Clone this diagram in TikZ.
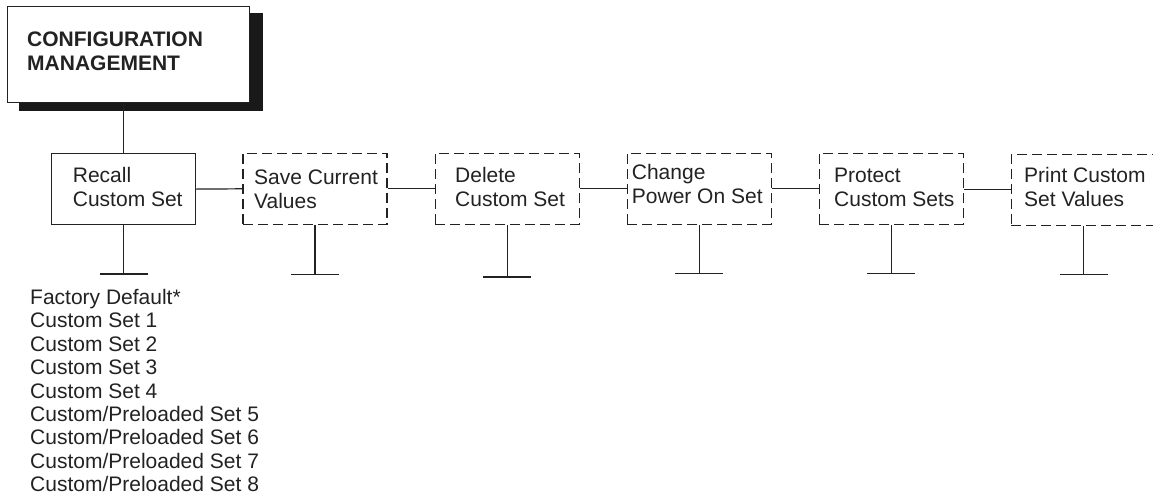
\documentclass[tikz,border=0pt]{standalone}
\usepackage{fontspec}
\setmainfont{Liberation Sans}
\definecolor{ink}{HTML}{222222}
\begin{document}
\begin{tikzpicture}[x=1pt,y=-1pt,
  box/.style={draw=ink, line width=1.2pt, minimum width=144pt, minimum height=71pt, anchor=north west, inner sep=0pt},
  dbox/.style={box, dash pattern=on 10pt off 5pt},
  lbl/.style={anchor=base west, inner sep=0pt, text=ink, font=\fontsize{21}{24}\selectfont, align=left},
  wire/.style={draw=ink, line width=1.2pt}]
\useasboundingbox (0,0) rectangle (1153,498);
% title box with shadow
\fill[black!90] (19,13) rectangle (263,111);
\node[draw=ink, line width=1.2pt, fill=white, anchor=north west, minimum width=242pt, minimum height=96pt, inner sep=0pt] (main) at (7,6) {};
\node[lbl, font=\fontsize{21}{23.3}\selectfont\bfseries] (main-t) at (27,70) {CONFIGURATION\\MANAGEMENT};
% level boxes
\node[box]  (recall)  at (51,153) {};
\node[dbox] (save)    at (242.3,152.7) {};
\node[dbox] (delete)  at (434.7,152.7) {};
\node[dbox] (change)  at (626.7,152.7) {};
\node[dbox] (protect) at (818.7,152.7) {};
\node[dbox, minimum width=145pt] (print) at (1010.7,154) {};
% labels
\node[lbl] (recall-l)  at (72.7,206.7) {Recall\\Custom Set};
\node[lbl] (save-l)    at (254,208) {Save Current\\Values};
\node[lbl] (delete-l)  at (455,206.7) {Delete\\Custom Set};
\node[lbl] (change-l)  at (631.7,203.5) {Change\\Power On Set};
\node[lbl] (protect-l) at (834,206.7) {Protect\\Custom Sets};
\node[lbl] (print-l)   at (1024,206.7) {Print Custom\\Set Values};
% connectors
\draw[wire] (recall.north |- main.south) -- (recall.north);
\draw[wire] (recall.east) -- (save.west);
\draw[wire] (save.east) -- (delete.west);
\draw[wire] (delete.east) -- (change.west);
\draw[wire] (change.east) -- (protect.west);
\draw[wire] ([yshift=-0.8pt]protect.east) -- ([yshift=-0.8pt]protect.east -| print.west);
% stems
\draw[wire] (recall.south)  -- ++(0,48.7) coordinate (recall-s);
\draw[wire] (save.south)    -- ++(0,49.4) coordinate (save-s);
\draw[wire] (delete.south)  -- ++(0,52)   coordinate (delete-s);
\draw[wire] (change.south)  -- ++(0,48.3) coordinate (change-s);
\draw[wire] (protect.south) -- ++(0,48.3) coordinate (protect-s);
\draw[wire] (print.south)   -- ++(0,48)   coordinate (print-s);
\foreach \s in {recall,save,delete,change,protect,print}
  \draw[wire] ([xshift=-24pt]\s-s) -- ([xshift=24pt]\s-s);
% options list
\node[lbl, font=\fontsize{21}{23.4}\selectfont] (list) at (30,491.7) {Factory Default*\\Custom Set 1\\Custom Set 2\\Custom Set 3\\Custom Set 4\\Custom/Preloaded Set 5\\Custom/Preloaded Set 6\\Custom/Preloaded Set 7\\Custom/Preloaded Set 8};
\end{tikzpicture}
\end{document}
